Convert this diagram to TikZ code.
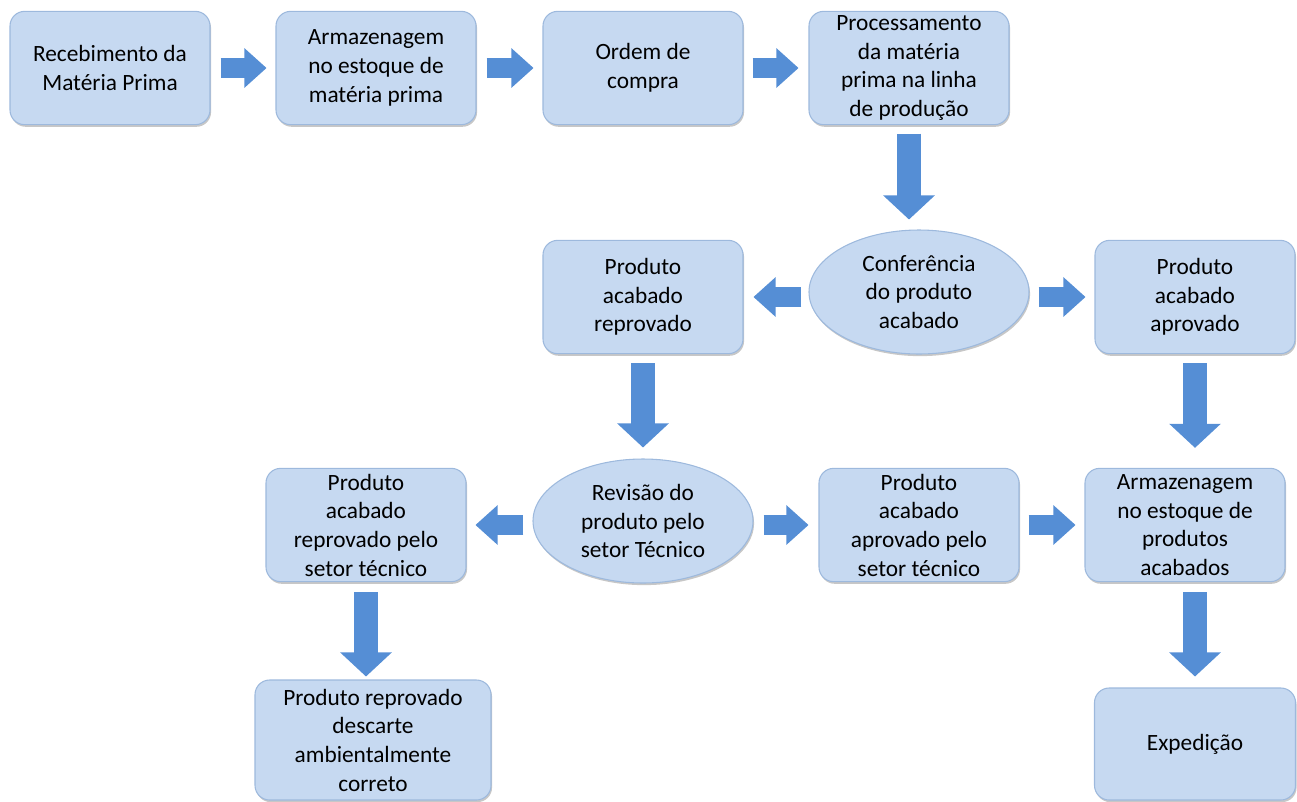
\documentclass[tikz,border=0pt]{standalone}
\usepackage{fontspec}
\setmainfont{Carlito}
\usetikzlibrary{shapes.geometric,arrows.meta,shadows}
\definecolor{boxfill}{HTML}{C6D9F1}
\definecolor{boxline}{HTML}{9DB9DD}
\definecolor{arrowblue}{HTML}{558ED5}
\tikzset{
  stepbox/.style={rectangle, rounded corners=11pt, fill=boxfill, draw=boxline, line width=0.8pt,
    minimum width=150pt, minimum height=85pt, inner sep=0pt, align=center,
    font=\fontsize{17.5}{21.5}\selectfont,
    drop shadow={shadow xshift=0.8pt, shadow yshift=-1.6pt, fill=black, opacity=0.22}},
  checkell/.style={ellipse, fill=boxfill, draw=boxline, line width=0.8pt,
    minimum width=165pt, minimum height=93pt, inner sep=0pt, align=center,
    font=\fontsize{17.5}{21.5}\selectfont,
    drop shadow={shadow xshift=0.8pt, shadow yshift=-1.6pt, fill=black, opacity=0.22}},
  harrow/.style={draw=arrowblue, line width=15pt,
    -{Triangle[length=16.5pt, width=29.5pt, line width=1pt, fill=arrowblue, color=arrowblue]}},
  varrow/.style={draw=arrowblue, line width=18pt,
    -{Triangle[length=18pt, width=38.5pt, line width=1pt, fill=arrowblue, color=arrowblue]}},
}
\begin{document}
\begin{tikzpicture}[x=0.75pt, y=-0.75pt]
\useasboundingbox (0,0) rectangle (1297,801);
% row 1
\node[stepbox] (r1) at (110,68) {Recebimento da\\Matéria Prima};
\node[stepbox] (r2) at (376,68) {Armazenagem\\no estoque de\\matéria prima};
\node[stepbox] (r3) at (643,68) {Ordem de\\compra};
\node[stepbox] (r4) at (909,68) {Processamento\\da matéria\\prima na linha\\de produção};
% row 2
\node[stepbox] (rep) at (643,297) {Produto\\acabado\\reprovado};
\node[checkell] (conf) at (919,292) {Conferência\\do produto\\acabado};
\node[stepbox] (apr) at (1195,297) {Produto\\acabado\\aprovado};
% row 3
\node[stepbox] (rept) at (366,525) {Produto\\acabado\\reprovado pelo\\setor técnico};
\node[checkell] (rev) at (643,521) {Revisão do\\produto pelo\\setor Técnico};
\node[stepbox] (aprt) at (919,525) {Produto\\acabado\\aprovado pelo\\setor técnico};
\node[stepbox] (arm) at (1185,525) {Armazenagem\\no estoque de\\produtos\\acabados};
% row 4
\node[stepbox, minimum width=177pt, minimum height=90pt] (desc) at (373,740) {Produto reprovado\\descarte\\ambientalmente\\correto};
\node[stepbox, minimum width=150.75pt, minimum height=84pt] (exp) at (1195,744) {Expedição};
% horizontal arrows
\draw[harrow, shorten <=7.5pt, shorten >=6.75pt] (r1.east) -- (r2.west);
\draw[harrow, shorten <=7.5pt, shorten >=6.75pt] (r2.east) -- (r3.west);
\draw[harrow, shorten <=6.75pt, shorten >=7.5pt] (r3.east) -- (r4.west);
\draw[harrow, shorten <=5.25pt, shorten >=7.5pt] (rep.east -| conf.west) -- (rep.east);
\draw[harrow, shorten <=6.75pt, shorten >=6.75pt] (apr.west -| conf.east) -- (apr.west);
\draw[harrow, shorten <=6.75pt, shorten >=6.75pt] (rept.east -| rev.west) -- (rept.east);
\draw[harrow, shorten <=7.5pt, shorten >=7.5pt] (aprt.west -| rev.east) -- (aprt.west);
\draw[harrow, shorten <=6.75pt, shorten >=6.75pt] (aprt.east) -- (arm.west);
% vertical arrows
\draw[varrow, shorten <=6.4pt, shorten >=7.5pt] (r4.south) -- (r4.south |- conf.north);
\draw[varrow, shorten <=6.75pt, shorten >=8.25pt] (rep.south) -- (rev.north);
\draw[varrow, shorten <=6.75pt, shorten >=15pt] (apr.south) -- (apr.south |- arm.north);
\draw[varrow, shorten <=7.5pt, shorten >=2.25pt] (rept.south) -- (rept.south |- desc.north);
\draw[varrow, shorten <=7.5pt, shorten >=8.25pt] (exp.north |- arm.south) -- (exp.north);
\end{tikzpicture}
\end{document}
